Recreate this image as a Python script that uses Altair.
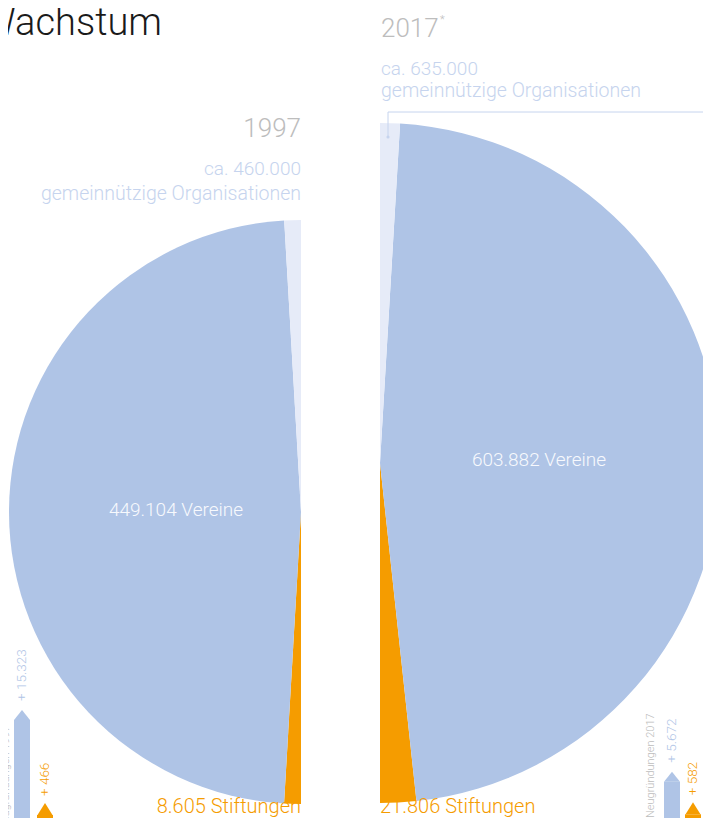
import math
import altair as alt
import pandas as pd

# ---------------- data ----------------
categories = ["Stiftungen", "Vereine", "Sonstige"]
values_1997 = [8605, 449104, 8550]      # Sonstige: estimated from the drawn wedge
values_2017 = [21806, 603882, 12000]    # Sonstige: estimated from the drawn wedge
order_1997 = [0, 1, 2]                  # bottom -> top (left half)
order_2017 = [2, 1, 0]                  # top -> bottom (right half)
total_labels = ["ca. 460.000", "ca. 635.000"]
years = ["1997", "2017"]
new_categories = ["Vereine", "Stiftungen"]
new_1997 = [15323, 466]
new_2017 = [5672, 582]

FONT = "Roboto"
BLUE = "#AFC4E6"
LIGHT = "#E6EBF8"
ORANGE = "#F59C00"
GREY = "#BDBDBD"
PALE = "#C6D4EE"


def de(n):
    return f"{n:,}".replace(",", ".")


color_scale = alt.Scale(domain=["Vereine", "Stiftungen", "Sonstige"], range=[BLUE, ORANGE, LIGHT])

W, H = 695, 810
BASE = 810  # bottom of the small arrows (chart px)

df_l = pd.DataFrame({"cat": categories, "value": values_1997, "ord": order_1997})
df_r = pd.DataFrame({"cat": categories, "value": values_2017, "ord": order_2017})

pie_l = alt.Chart(df_l).mark_arc(radius=292).encode(
    theta=alt.Theta("value:Q", stack=True,
                    scale=alt.Scale(domain=[0, sum(values_1997)], range=[math.pi, 2 * math.pi])),
    color=alt.Color("cat:N", scale=color_scale, legend=None),
    order=alt.Order("ord:Q"),
    x=alt.value(293), y=alt.value(504),
)
pie_r = alt.Chart(df_r).mark_arc(radius=340).encode(
    theta=alt.Theta("value:Q", stack=True,
                    scale=alt.Scale(domain=[0, sum(values_2017)], range=[0, math.pi])),
    color=alt.Color("cat:N", scale=color_scale, legend=None),
    order=alt.Order("ord:Q"),
    x=alt.value(372), y=alt.value(455),
)


def txt(s, x, y, size, color, align="left", angle=0, weight=300):
    kw = dict(font=FONT, fontSize=size, color=color, align=align, fontWeight=weight, baseline="alphabetic")
    if angle:
        kw["angle"] = angle
    return alt.Chart(pd.DataFrame({"t": [s]})).mark_text(**kw).encode(
        text="t:N", x=alt.value(x), y=alt.value(y))


texts = [
    txt("Wachstum", 154, 27, 38, "#1A1A1A", align="right"),
    txt(years[0], 293, 129, 26, GREY, align="right"),
    txt(total_labels[0], 293, 167, 19, PALE, align="right"),
    txt("gemeinnützige Organisationen", 293, 192, 19.5, PALE, align="right"),
    txt(years[1], 373, 29, 26, GREY),
    txt("*", 432, 15, 11, GREY),
    txt(total_labels[1], 373, 67, 19, PALE),
    txt("gemeinnützige Organisationen", 373, 88.5, 19.5, PALE),
    txt(f"{de(values_1997[1])} Vereine", 168, 508, 19, "#F7F9FD", align="center"),
    txt(f"{de(values_2017[1])} Vereine", 531, 458, 19, "#F7F9FD", align="center"),
    txt(f"{de(values_1997[0])} Stiftungen", 293, 805, 20, ORANGE, align="right"),
    txt(f"{de(values_2017[0])} Stiftungen", 372, 805, 20, ORANGE),
    txt("Neugründungen 1997", 1, 822, 11, GREY, angle=270),
    txt("Neugründungen 2017", 646, BASE, 11, GREY, angle=270),
]

line_h = alt.Chart(pd.DataFrame({"a": [0]})).mark_rule(color=PALE, strokeWidth=1).encode(
    x=alt.value(380), x2=alt.value(W), y=alt.value(104))
line_v = alt.Chart(pd.DataFrame({"a": [0]})).mark_rule(color=PALE, strokeWidth=1).encode(
    x=alt.value(380), y=alt.value(104), y2=alt.value(129))
dot = alt.Chart(pd.DataFrame({"a": [0]})).mark_point(filled=True, opacity=1, color=PALE, size=10, shape="circle").encode(
    x=alt.value(380), y=alt.value(129))

# small "Neugründungen" arrows
yscale = alt.Scale(domain=[0, 20000], range=[BASE, BASE - 128])
BLUE_TIP = "M-1,0L1,0L0,-1.25Z"
ORANGE_TIP = "M-1,0L1,0L0,-1.6Z"


def arrow(value, x, color, tip, tip_size, label_dx):
    d = pd.DataFrame({"value": [value], "label": [f"+ {de(value)}"]})
    base = alt.Chart(d)
    bar = base.mark_bar(width=16, color=color).encode(
        x=alt.value(x), y=alt.Y("value:Q", scale=yscale, axis=None), y2=alt.value(BASE))
    head = base.mark_point(shape=tip, size=tip_size, filled=True, opacity=1, color=color, strokeWidth=0).encode(
        x=alt.value(x), y=alt.Y("value:Q", scale=yscale, axis=None))
    lab = base.mark_text(font=FONT, fontSize=13.5, fontWeight=300, color=color, angle=270,
                         align="left", baseline="middle", dx=label_dx).encode(
        x=alt.value(x), y=alt.Y("value:Q", scale=yscale, axis=None), text="label:N")
    return [bar, head, lab]


arrows = (
    arrow(new_1997[0], 14, BLUE, BLUE_TIP, 256, 19)
    + arrow(new_1997[1], 37, ORANGE, ORANGE_TIP, 225, 19)
    + arrow(new_2017[0], 664, BLUE, BLUE_TIP, 256, 19)
    + arrow(new_2017[1], 685, ORANGE, ORANGE_TIP, 225, 19)
)

chart = alt.layer(pie_l, pie_r, line_h, line_v, dot, *arrows, *texts).resolve_scale(
    theta="independent"
).properties(
    width=W, height=H, padding=0, autosize=alt.AutoSizeParams(type="none")
).configure_view(stroke=None)

chart.save("out.html", embed_options={"renderer": "svg", "actions": False})
